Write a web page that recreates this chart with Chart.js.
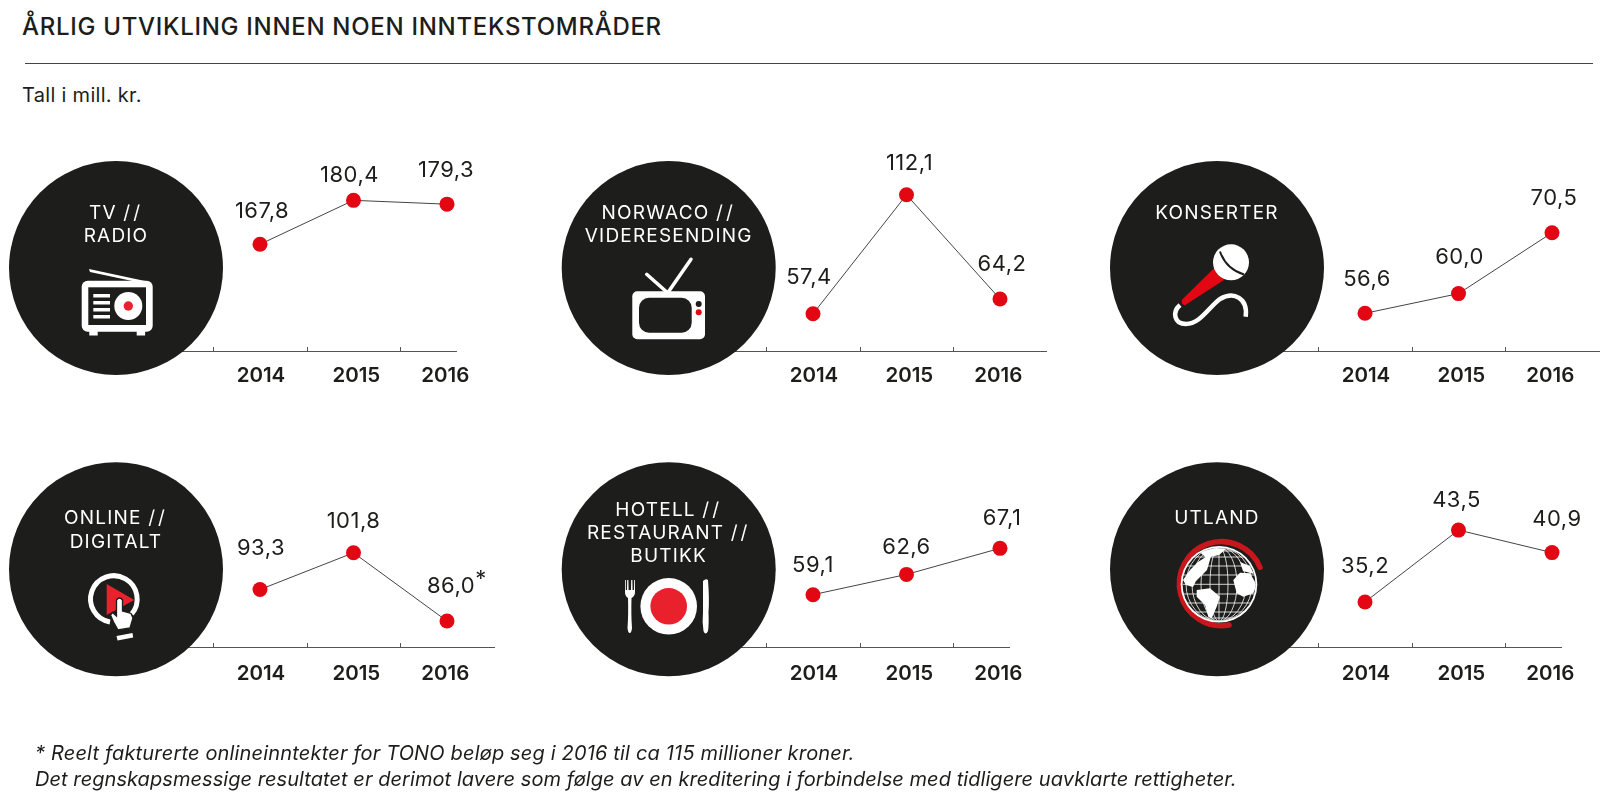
<!DOCTYPE html>
<html lang="no">
<head>
<meta charset="utf-8">
<title>Årlig utvikling innen noen inntektsområder</title>
<script src="https://cdn.jsdelivr.net/npm/chart.js@4"></script>
<style>
  html, body { margin: 0; padding: 0; background: #fff; }
  body { position: relative; width: 1600px; height: 800px; overflow: hidden; font-family: Inter, sans-serif; color: #1d1d1b; }
  canvas { position: absolute; }
  #overlay { position: absolute; left: 0; top: 0; pointer-events: none; }
  .txt { position: absolute; white-space: nowrap; }
  #title { left: 22px; top: 12px; font-size: 24px; font-weight: 500; line-height: 30px; letter-spacing: 0.7px; }
  #rule { position: absolute; left: 25px; top: 63px; width: 1568px; height: 1px; background: #444; }
  #unit { left: 22px; top: 83px; font-size: 20px; line-height: 24px; letter-spacing: 0.3px; }
  #note1, #note2 { left: 35px; font-size: 20px; font-style: italic; line-height: 24px; }
  #note1 { top: 741px; letter-spacing: 0.17px; }
  #note2 { top: 767px; letter-spacing: 0.06px; }
  .cap { fill: #fff; font-family: Inter, sans-serif; font-size: 19px; font-weight: 400; letter-spacing: 1.2px; text-anchor: middle; dominant-baseline: central; }
  .cap tspan { letter-spacing: 3px; }
</style>
</head>
<body>
<div class="txt" id="title">ÅRLIG UTVIKLING INNEN NOEN INNTEKSTOMRÅDER</div>
<div id="rule"></div>
<div class="txt" id="unit">Tall i mill. kr.</div>

<svg id="overlay" width="1600" height="800" viewBox="0 0 1600 800">
  <defs>
    <clipPath id="globeClip"><circle cx="1219" cy="584.3" r="36.5"/></clipPath>
  </defs>
  <g fill="#1d1d1b">
    <circle cx="116" cy="268" r="107"/>
    <circle cx="668.7" cy="268" r="107"/>
    <circle cx="1217" cy="268" r="107"/>
    <circle cx="116" cy="569.3" r="107"/>
    <circle cx="668.7" cy="569.3" r="107"/>
    <circle cx="1217" cy="569.3" r="107"/>
  </g>

  <text class="cap" x="116" y="212">TV <tspan>//</tspan></text>
  <text class="cap" x="116" y="235">RADIO</text>
  <text class="cap" x="668.7" y="212">NORWACO <tspan>//</tspan></text>
  <text class="cap" x="668.7" y="235">VIDERESENDING</text>
  <text class="cap" x="1217" y="212">KONSERTER</text>
  <text class="cap" x="116" y="517">ONLINE <tspan>//</tspan></text>
  <text class="cap" x="116" y="541">DIGITALT</text>
  <text class="cap" x="668.7" y="509">HOTELL <tspan>//</tspan></text>
  <text class="cap" x="668.7" y="532">RESTAURANT <tspan>//</tspan></text>
  <text class="cap" x="668.7" y="555">BUTIKK</text>
  <text class="cap" x="1217" y="517">UTLAND</text>

  <!-- radio -->
  <g>
    <polygon points="89,269 90,272 137,282 145,281" fill="#fff"/>
    <rect x="81.7" y="280.7" width="71" height="51" rx="6" fill="#fff"/>
    <rect x="89.3" y="331" width="8.4" height="4.5" fill="#fff"/>
    <rect x="136.7" y="331" width="8.4" height="4.5" fill="#fff"/>
    <rect x="88.3" y="287.3" width="57.7" height="37.7" fill="#1d1d1b"/>
    <g fill="#fff">
      <rect x="93.3" y="294" width="16.7" height="3.5"/>
      <rect x="93.3" y="301" width="16.7" height="3.5"/>
      <rect x="93.3" y="308" width="16.7" height="3.5"/>
      <rect x="93.3" y="315" width="16.7" height="3.5"/>
      <circle cx="128.3" cy="306" r="14"/>
    </g>
    <circle cx="128.3" cy="306" r="4.7" fill="#e8212d"/>
  </g>

  <!-- tv -->
  <g>
    <path d="M668.3 292 L691 259.3 M666.7 292 L646.7 274.3" stroke="#fff" stroke-width="3.5" stroke-linecap="round" fill="none"/>
    <rect x="632.3" y="291.3" width="72.7" height="48" rx="5" fill="#fff"/>
    <rect x="639" y="297.7" width="52.7" height="35" rx="10" fill="#1d1d1b"/>
    <circle cx="698.7" cy="304" r="3" fill="#1d1d1b"/>
    <circle cx="698.7" cy="312.3" r="3" fill="#e30613"/>
  </g>

  <!-- mikrofon -->
  <g>
    <path d="M1180 305 C1172 312 1174 324 1186 324 C1200 324 1208 308 1220 299 C1234 291 1248 298 1245.7 316.7" stroke="#fff" stroke-width="4.5" fill="none"/>
    <path d="M1215 267.3 L1224 280 L1186 304.5 Q1183 306 1182 303 L1181.7 300 Z" fill="#e30613"/>
    <circle cx="1231" cy="262.3" r="18" fill="#fff"/>
    <path d="M1220 251.5 Q1226 269 1244 274.5" stroke="#1d1d1b" stroke-width="2" fill="none"/>
  </g>

  <!-- online -->
  <g>
    <path d="M131.7 614 A23.3 23.3 0 1 0 110 622" stroke="#fff" stroke-width="5" fill="none"/>
    <polygon points="106.7,584 134.3,600 106.7,615" fill="#e8212d"/>
    <path d="M116.5 600 Q119.5 596 122.5 600 L122.5 611 L131 613.5 L133 618 L130 628 L118 630 L113.5 622 L110.5 615 L112.5 612.5 L116.5 616 Z" fill="#fff" stroke="#1d1d1b" stroke-width="1.3"/>
    <polygon points="116.5,636 132.5,633 133.2,637.5 117.5,640.5" fill="#fff"/>
  </g>

  <!-- tallerken -->
  <g>
    <circle cx="668.7" cy="606.3" r="28.3" fill="#fff"/>
    <circle cx="668.7" cy="606.3" r="18.3" fill="#e8212d"/>
    <path d="M625 580 L625 592 Q625 596 628 598 Q628.5 615 627.5 628 Q628 633 629.7 633 Q631.5 633 632 628 Q631 615 631.5 598 Q635 596 635 592 L635 580 L634.2 580 L634 590 L632.6 590 L632.4 580 L631.2 580 L631 590 L628.6 590 L628.4 580 L627.2 580 L627 590 L625.8 590 L625.8 580 Z" fill="#fff"/>
    <path d="M703 581 Q706 578 708 580 Q709.5 600 708.5 612 Q709 625 708 631 Q705.5 636 703.5 631 Q702 622 703 612 Z" fill="#fff"/>
  </g>

  <!-- globus -->
  <g>
    <path d="M1260 567.3 A42 42 0 1 0 1229 625" stroke="#c8161d" stroke-width="5.5" stroke-linecap="round" fill="none"/>
    <circle cx="1219" cy="584.3" r="38.3" fill="#fff"/>
    <circle cx="1219" cy="584.3" r="36.5" fill="#1d1d1b"/>
    <g clip-path="url(#globeClip)">
      <g stroke="#fff" stroke-width="0.8" fill="none">
        <ellipse cx="1219" cy="584.3" rx="9" ry="37"/>
        <ellipse cx="1219" cy="584.3" rx="18" ry="37"/>
        <ellipse cx="1219" cy="584.3" rx="27" ry="37"/>
        <ellipse cx="1219" cy="584.3" rx="33" ry="37"/>
        <path d="M1219 547 V622 M1180 584.3 H1258 M1182 575 H1256 M1182 566 H1256 M1186 557 H1252 M1192 551 H1246 M1182 594 H1256 M1182 603 H1256 M1186 612 H1252 M1192 618 H1246"/>
      </g>
      <g fill="#fff">
        <path d="M1233.3 580 L1240 572.7 L1250 573.3 L1256.7 585 L1253.3 593.3 L1243.3 596.7 L1236.7 593.3 Z"/>
        <path d="M1196.7 590 L1210 588.3 L1220 596.7 L1216.7 606.7 L1211.7 618.3 L1208.3 616.7 L1205 605 L1196.7 596.7 Z"/>
        <path d="M1183 580 L1190 570 L1198 562 L1212 553 L1207 570 L1196 581 L1193 587 L1186 585 Z"/>
        <path d="M1200 552 L1216 548 L1226 549 L1219 555 L1206 558 Z"/>
        <path d="M1240 562 L1250 566 L1254 574 L1243 571 Z"/>
      </g>
    </g>
  </g>
</svg>

<div class="txt" id="note1">* Reelt fakturerte onlineinntekter for TONO beløp seg i 2016 til ca 115 millioner kroner.</div>
<div class="txt" id="note2">Det regnskapsmessige resultatet er derimot lavere som følge av en kreditering i forbindelse med tidligere uavklarte rettigheter.</div>

<script>
const years = [2014, 2015, 2016];
const tickYears = [2013.5, 2014.5, 2015.5];

const tvRadio = [167.8, 180.4, 179.3];
const norwaco = [57.4, 112.1, 64.2];
const konserter = [56.6, 60.0, 70.5];
const online = [93.3, 101.8, 86.0];
const hotell = [59.1, 62.6, 67.1];
const utland = [35.2, 43.5, 40.9];

const seriesList = [tvRadio, norwaco, konserter, online, hotell, utland];

// the source uses a different cut-off scale in every panel
const yMin = [137.2, 40.3, 50.1, 80.0, 50.07, 30.0];
const yMax = [197.7, 137.3, 86.5, 127.9, 85.8, 53.9];

// layout, px on the page
const pxPerYear = 93.5;
const firstPointX = [260, 813, 1365, 260, 813, 1365];
const axisStartX = [156, 709, 1257, 156, 709, 1257];
const axisEndX = [456, 1046, 1599, 494, 1009, 1561];
const canvasEndX = [540, 1085, 1600, 540, 1085, 1600];
const plotTop = [140, 140, 140, 440, 440, 440];
const axisY = [351, 351, 351, 647, 647, 647];
const yearPadding = [13, 13, 13, 15, 15, 15];
const bottomSpace = 45;

// year labels are not quite centred under the points in the source
const yearShift = [0.01, 0.03, -0.018];

// value label position relative to its point [dx, dy]
const labelNudge = [
  [[2, -33], [-4, -25], [-1, -34]],
  [[-4, -36], [3, -31], [2, -35]],
  [[2, -34], [1, -36], [2, -34]],
  [[1, -41], [0, -31], [4, -35]],
  [[0, -29], [0, -27], [2, -30]],
  [[0, -36], [-2, -30], [5, -33]]
];

function fmtValue(v) {
  return v.toFixed(1).replace('.', ',');
}

const panelMarks = {
  id: 'panelMarks',
  afterDraw(chart, args, opts) {
    const { ctx, scales: { x } } = chart;
    const bottom = chart.chartArea.bottom;
    ctx.save();
    ctx.strokeStyle = '#555';
    ctx.lineWidth = 1;
    tickYears.forEach(t => {
      const px = Math.round(x.getPixelForValue(t)) + 0.5;
      ctx.beginPath();
      ctx.moveTo(px, bottom);
      ctx.lineTo(px, bottom - 4);
      ctx.stroke();
    });
    ctx.fillStyle = '#1d1d1b';
    ctx.font = '400 22px Inter, sans-serif';
    ctx.letterSpacing = '0.5px';
    ctx.textAlign = 'center';
    ctx.textBaseline = 'middle';
    chart.getDatasetMeta(0).data.forEach((pt, i) => {
      const [dx, dy] = opts.nudge[i];
      const text = fmtValue(chart.data.datasets[0].data[i].y);
      ctx.fillText(text, pt.x + dx, pt.y + dy);
      // footnote star on online 2016
      if (opts.star && i === 2) {
        const w = ctx.measureText(text).width;
        ctx.fillText('*', pt.x + dx + w / 2 + 6, pt.y + dy - 7);
      }
    });
    ctx.restore();
  }
};

function buildChart(i) {
  const canvas = document.createElement('canvas');
  const left = axisStartX[i];
  const width = canvasEndX[i] - left;
  const height = axisY[i] - plotTop[i] + bottomSpace;
  canvas.width = width;
  canvas.height = height;
  canvas.style.left = left + 'px';
  canvas.style.top = plotTop[i] + 'px';
  canvas.style.width = width + 'px';
  canvas.style.height = height + 'px';
  document.body.insertBefore(canvas, document.getElementById('overlay'));

  return new Chart(canvas, {
    type: 'line',
    data: {
      datasets: [{
        data: years.map((year, j) => ({ x: year, y: seriesList[i][j] })),
        borderColor: '#444',
        borderWidth: 1,
        tension: 0,
        pointRadius: 7.5,
        pointHoverRadius: 7.5,
        pointBorderWidth: 0,
        pointBackgroundColor: '#e30613',
        clip: false
      }]
    },
    plugins: [panelMarks],
    options: {
      responsive: false,
      animation: false,
      devicePixelRatio: 1,
      layout: { autoPadding: false, padding: { right: canvasEndX[i] - axisEndX[i] } },
      plugins: {
        legend: { display: false },
        tooltip: { enabled: false },
        panelMarks: { nudge: labelNudge[i], star: seriesList[i] === online }
      },
      scales: {
        x: {
          type: 'linear',
          min: 2014 - (firstPointX[i] - axisStartX[i]) / pxPerYear,
          max: 2014 + (axisEndX[i] - firstPointX[i]) / pxPerYear,
          afterBuildTicks(scale) { scale.ticks = years.map((y, j) => ({ value: y + yearShift[j] })); },
          afterFit(scale) {
            scale.height = bottomSpace;
            scale.paddingLeft = 0;
            scale.paddingRight = 0;
          },
          grid: { display: false, drawTicks: false },
          border: { display: true, color: '#555', width: 1 },
          ticks: {
            autoSkip: false,
            maxRotation: 0,
            padding: yearPadding[i],
            color: '#1d1d1b',
            font: { family: 'Inter, sans-serif', size: 20.5, weight: 600 },
            callback: v => String(Math.round(v))
          }
        },
        y: { display: false, min: yMin[i], max: yMax[i] }
      }
    }
  });
}

seriesList.forEach((s, i) => buildChart(i));
</script>
</body>
</html>
